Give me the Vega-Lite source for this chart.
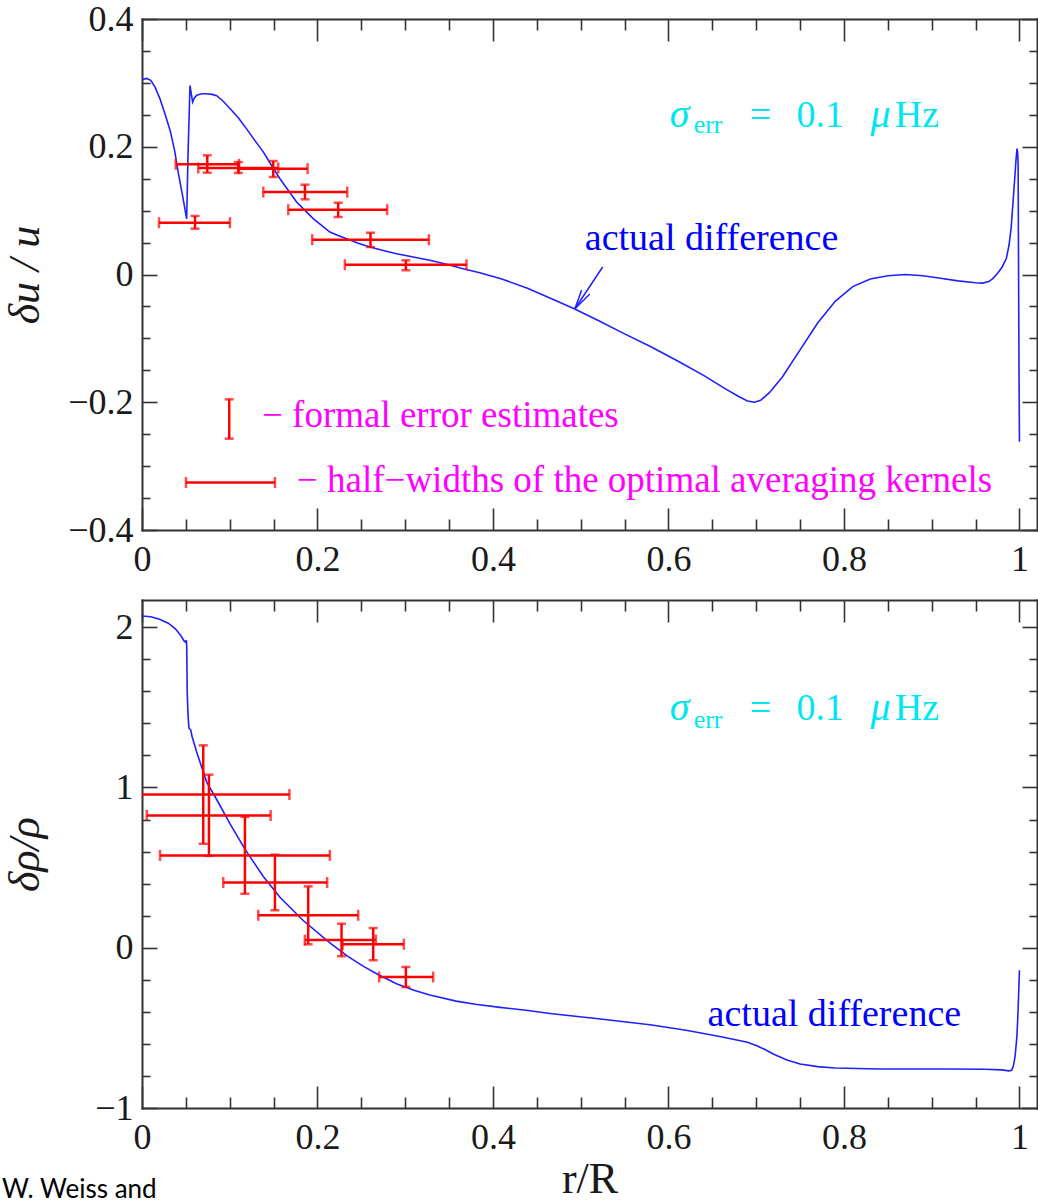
{
  "$schema": "https://vega.github.io/schema/vega-lite/v6.json",
  "padding": {"left": 2, "top": 1, "right": 0, "bottom": 0},
  "background": "white",
  "spacing": 70,
  "bounds": "flush",
  "config": {
    "view": {"stroke": null},
    "axis": {
      "grid": false, "domainColor": "#333333", "domainWidth": 2, "domainCap": "square",
      "tickColor": "#333333", "tickWidth": 1.6,
      "labelFont": "Liberation Serif", "labelFontSize": 36, "labelColor": "#1a1a1a",
      "titleFont": "Liberation Serif", "titleFontSize": 44, "titleFontWeight": "normal", "titleColor": "#1a1a1a",
      "labelFlush": false, "labelOverlap": false
    }
  },
  "datasets": {
    "u_curve": [
      {"r":0,"v":0.305},{"r":0.005,"v":0.307},{"r":0.01,"v":0.304},{"r":0.015,"v":0.293},{"r":0.0205,"v":0.275},
      {"r":0.026,"v":0.252},{"r":0.032,"v":0.226},{"r":0.037,"v":0.195},{"r":0.0413,"v":0.16},{"r":0.046,"v":0.125},
      {"r":0.0509,"v":0.087},{"r":0.0525,"v":0.19},{"r":0.0547,"v":0.296},{"r":0.0565,"v":0.28},{"r":0.0577,"v":0.27},
      {"r":0.0595,"v":0.276},{"r":0.0623,"v":0.2806},{"r":0.068,"v":0.283},{"r":0.0737,"v":0.283},{"r":0.08,"v":0.282},
      {"r":0.0851,"v":0.28},{"r":0.092,"v":0.272},{"r":0.1002,"v":0.26},{"r":0.11,"v":0.245},{"r":0.1192,"v":0.228},
      {"r":0.1285,"v":0.21},{"r":0.1382,"v":0.192},{"r":0.1475,"v":0.171},{"r":0.1572,"v":0.15},{"r":0.167,"v":0.131},
      {"r":0.1762,"v":0.1135},{"r":0.186,"v":0.1},{"r":0.1951,"v":0.0874},{"r":0.205,"v":0.0765},{"r":0.2141,"v":0.0665},
      {"r":0.2235,"v":0.061},{"r":0.2331,"v":0.056},{"r":0.2465,"v":0.049},{"r":0.2597,"v":0.043},{"r":0.275,"v":0.0375},
      {"r":0.2901,"v":0.0326},{"r":0.309,"v":0.0275},{"r":0.328,"v":0.0222},{"r":0.347,"v":0.016},{"r":0.366,"v":0.0091},
      {"r":0.385,"v":0.0028},{"r":0.41,"v":-0.007},{"r":0.44,"v":-0.022},{"r":0.47,"v":-0.04},{"r":0.4932,"v":-0.054},
      {"r":0.52,"v":-0.072},{"r":0.55,"v":-0.093},{"r":0.58,"v":-0.113},{"r":0.61,"v":-0.135},{"r":0.64,"v":-0.158},
      {"r":0.665,"v":-0.179},{"r":0.68,"v":-0.191},{"r":0.69,"v":-0.198},{"r":0.698,"v":-0.2},{"r":0.705,"v":-0.197},
      {"r":0.715,"v":-0.185},{"r":0.73,"v":-0.16},{"r":0.75,"v":-0.118},{"r":0.77,"v":-0.076},{"r":0.79,"v":-0.042},
      {"r":0.81,"v":-0.019},{"r":0.83,"v":-0.007},{"r":0.85,"v":-0.002},{"r":0.87,"v":0.0},{"r":0.89,"v":-0.002},
      {"r":0.91,"v":-0.006},{"r":0.93,"v":-0.01},{"r":0.95,"v":-0.013},{"r":0.958,"v":-0.0135},{"r":0.965,"v":-0.011},
      {"r":0.97,"v":-0.006},{"r":0.975,"v":0.002},{"r":0.98,"v":0.011},{"r":0.985,"v":0.025},{"r":0.988,"v":0.045},
      {"r":0.9905,"v":0.072},{"r":0.9925,"v":0.11},{"r":0.9945,"v":0.148},{"r":0.996,"v":0.178},{"r":0.9972,"v":0.197},
      {"r":0.998,"v":0.19},{"r":0.9985,"v":0.17},{"r":0.999,"v":0.0},{"r":0.9995,"v":-0.15},{"r":1.0,"v":-0.262}
    ],
    "u_pts": [
      {"r":0.0604,"v":0.0811,"vlo":0.0717,"vhi":0.0916,"rlo":0.0194,"rhi":0.1002},
      {"r":0.0744,"v":0.1725,"vlo":0.1594,"vhi":0.1866,"rlo":0.0384,"rhi":0.1105},
      {"r":0.1097,"v":0.1667,"vlo":0.159,"vhi":0.176,"rlo":0.0641,"rhi":0.1553},
      {"r":0.1496,"v":0.1657,"vlo":0.1526,"vhi":0.1777,"rlo":0.1105,"rhi":0.1887},
      {"r":0.1857,"v":0.129,"vlo":0.1177,"vhi":0.1406,"rlo":0.1382,"rhi":0.2339},
      {"r":0.2236,"v":0.1015,"vlo":0.09,"vhi":0.1124,"rlo":0.1667,"rhi":0.2794},
      {"r":0.2604,"v":0.0545,"vlo":0.043,"vhi":0.0654,"rlo":0.194,"rhi":0.327},
      {"r":0.3007,"v":0.0153,"vlo":0.0066,"vhi":0.0222,"rlo":0.2312,"rhi":0.3698}
    ],
    "u_leg": [
      {"r":0.0994,"v":-0.3256,"vlo":-0.257,"vhi":-0.1954,"rlo":0.0501,"rhi":0.1515}
    ],
    "u_arrow": [
      {"r":0.525,"v":0.0117,"r2":0.4932,"v2":-0.054},
      {"r":0.4932,"v":-0.054,"r2":0.5011,"v2":-0.0243},
      {"r":0.4932,"v":-0.054,"r2":0.5103,"v2":-0.0305}
    ],
    "u_cyan": [
      {"r":0.6925,"v":0.2309,"t":"="},{"r":0.746,"v":0.2309,"t":"0.1"},{"r":0.858,"v":0.2309,"t":"Hz"}
    ],
    "u_cyan_it": [
      {"r":0.6014,"v":0.2309,"t":"σ"},{"r":0.8303,"v":0.2309,"t":"μ"}
    ],
    "u_cyan_sub": [{"r":0.6287,"v":0.222,"t":"err"}],
    "u_blue": [{"r":0.5046,"v":0.038,"t":"actual difference"}],
    "u_mag": [
      {"r":0.1367,"v":-0.2387,"t":"− formal error estimates"},
      {"r":0.1765,"v":-0.3405,"t":"− half−widths of the optimal averaging kernels"}
    ],
    "rho_curve": [
      {"r":0,"v":2.07},{"r":0.01,"v":2.065},{"r":0.02,"v":2.05},{"r":0.03,"v":2.025},{"r":0.038,"v":1.99},
      {"r":0.044,"v":1.95},{"r":0.048,"v":1.915},{"r":0.05,"v":1.905},{"r":0.0505,"v":1.92},{"r":0.051,"v":1.88},
      {"r":0.0515,"v":1.6},{"r":0.0525,"v":1.45},{"r":0.0535,"v":1.37},{"r":0.0545,"v":1.365},{"r":0.0555,"v":1.36},
      {"r":0.057,"v":1.32},{"r":0.0623,"v":1.221},{"r":0.0737,"v":1.034},{"r":0.0851,"v":0.925},{"r":0.1002,"v":0.775},
      {"r":0.1173,"v":0.615},{"r":0.1382,"v":0.445},{"r":0.1572,"v":0.315},{"r":0.1837,"v":0.17},{"r":0.2141,"v":0.03},
      {"r":0.235,"v":-0.055},{"r":0.252,"v":-0.115},{"r":0.27,"v":-0.17},{"r":0.29,"v":-0.225},{"r":0.31,"v":-0.265},
      {"r":0.328,"v":-0.295},{"r":0.358,"v":-0.333},{"r":0.38,"v":-0.353},{"r":0.408,"v":-0.372},{"r":0.44,"v":-0.392},
      {"r":0.465,"v":-0.41},{"r":0.52,"v":-0.443},{"r":0.579,"v":-0.48},{"r":0.62,"v":-0.515},{"r":0.66,"v":-0.555},
      {"r":0.69,"v":-0.59},{"r":0.7,"v":-0.61},{"r":0.71,"v":-0.635},{"r":0.72,"v":-0.665},{"r":0.735,"v":-0.7},
      {"r":0.75,"v":-0.725},{"r":0.77,"v":-0.742},{"r":0.79,"v":-0.75},{"r":0.84,"v":-0.757},{"r":0.92,"v":-0.757},
      {"r":0.96,"v":-0.758},{"r":0.98,"v":-0.762},{"r":0.988,"v":-0.768},
      {"r":0.991,"v":-0.765},{"r":0.993,"v":-0.74},{"r":0.995,"v":-0.68},{"r":0.997,"v":-0.56},{"r":0.998,"v":-0.45},
      {"r":0.999,"v":-0.3},{"r":1.0,"v":-0.14}
    ],
    "rho_pts": [
      {"r":0.0698,"v":0.956,"vlo":0.649,"vhi":1.263,"rlo":-0.0281,"rhi":0.168},
      {"r":0.0763,"v":0.826,"vlo":0.573,"vhi":1.08,"rlo":0.0054,"rhi":0.1466},
      {"r":0.1173,"v":0.576,"vlo":0.337,"vhi":0.816,"rlo":0.0205,"rhi":0.2141},
      {"r":0.1515,"v":0.407,"vlo":0.234,"vhi":0.581,"rlo":0.0926,"rhi":0.211},
      {"r":0.1894,"v":0.2025,"vlo":0.0215,"vhi":0.383,"rlo":0.1325,"rhi":0.2464},
      {"r":0.2274,"v":0.048,"vlo":-0.053,"vhi":0.15,"rlo":0.1856,"rhi":0.2665},
      {"r":0.2635,"v":0.022,"vlo":-0.078,"vhi":0.123,"rlo":0.2286,"rhi":0.2984},
      {"r":0.3007,"v":-0.1825,"vlo":-0.245,"vhi":-0.12,"rlo":0.2703,"rhi":0.3318}
    ],
    "rho_cyan": [
      {"r":0.6925,"v":1.421,"t":"="},{"r":0.746,"v":1.421,"t":"0.1"},{"r":0.858,"v":1.421,"t":"Hz"}
    ],
    "rho_cyan_it": [
      {"r":0.6014,"v":1.421,"t":"σ"},{"r":0.8303,"v":1.421,"t":"μ"}
    ],
    "rho_cyan_sub": [{"r":0.6287,"v":1.372,"t":"err"}],
    "rho_blue": [{"r":0.6446,"v":-0.488,"t":"actual difference"}],
    "credit": [{"r":-0.1595,"v":-1.56,"t":"W. Weiss and"}]
  },
  "vconcat": [
    {
      "width": 895, "height": 511,
      "resolve": {"axis": {"x": "independent", "y": "independent"}},
      "layer": [
        {"data": {"name": "u_curve"},
         "mark": {"type": "line", "color": "#2020ff", "strokeWidth": 1.6, "clip": true},
         "encoding": {
           "x": {"field": "r", "type": "quantitative", "scale": {"domain": [0, 1.02], "nice": false, "zero": false},
                 "axis": {"orient": "bottom", "values": [0, 0.2, 0.4, 0.6, 0.8, 1], "format": "~f", "tickSize": -22, "labelPadding": 62, "labelBaseline": "alphabetic", "title": null}},
           "y": {"field": "v", "type": "quantitative", "scale": {"domain": [-0.4, 0.4], "nice": false, "zero": false},
                 "axis": {"orient": "left", "values": [-0.4, -0.2, 0, 0.2, 0.4], "format": "~f", "tickSize": -15, "labelPadding": 24,
                          "title": "δu / u", "titleX": -95, "titleY": 255.5, "titleAngle": -90, "titleAlign": "center", "titleBaseline": "bottom", "titleFontStyle": "italic"}}
         }},
        {"data": {"name": "u_pts"},
         "mark": {"type": "rule", "color": "#ff0000", "strokeWidth": 2.5},
         "encoding": {
           "x": {"field": "r", "type": "quantitative", "scale": {"domain": [0, 1.02], "nice": false, "zero": false},
                 "axis": {"orient": "bottom", "values": [0.05, 0.1, 0.15, 0.25, 0.3, 0.35, 0.45, 0.5, 0.55, 0.65, 0.7, 0.75, 0.85, 0.9, 0.95], "tickSize": -11, "labels": false, "domain": false, "title": null}},
           "y": {"field": "vlo", "type": "quantitative", "scale": {"domain": [-0.4, 0.4], "nice": false, "zero": false},
                 "axis": {"orient": "left", "values": [-0.35, -0.3, -0.25, -0.15, -0.1, -0.05, 0.05, 0.1, 0.15, 0.25, 0.3, 0.35], "tickSize": -8, "labels": false, "domain": false, "title": null}},
           "y2": {"field": "vhi"}
         }},
        {"data": {"name": "u_pts"},
         "mark": {"type": "rule", "color": "#ff0000", "strokeWidth": 2.5, "clip": true},
         "encoding": {
           "x": {"field": "rlo", "type": "quantitative", "scale": {"domain": [0, 1.02], "nice": false, "zero": false},
                 "axis": {"orient": "top", "values": [0, 0.2, 0.4, 0.6, 0.8, 1], "tickSize": -22, "labels": false, "title": null}},
           "x2": {"field": "rhi"},
           "y": {"field": "v", "type": "quantitative", "scale": {"domain": [-0.4, 0.4], "nice": false, "zero": false},
                 "axis": {"orient": "right", "values": [-0.4, -0.2, 0, 0.2, 0.4], "tickSize": -15, "labels": false, "title": null}}
         }},
        {"data": {"name": "u_pts"},
         "mark": {"type": "tick", "orient": "horizontal", "size": 9, "thickness": 2.5, "color": "#ff0000"},
         "encoding": {
           "x": {"field": "r", "type": "quantitative", "scale": {"domain": [0, 1.02], "nice": false, "zero": false},
                 "axis": {"orient": "top", "values": [0.05, 0.1, 0.15, 0.25, 0.3, 0.35, 0.45, 0.5, 0.55, 0.65, 0.7, 0.75, 0.85, 0.9, 0.95], "tickSize": -11, "labels": false, "domain": false, "title": null}},
           "y": {"field": "vlo", "type": "quantitative", "scale": {"domain": [-0.4, 0.4], "nice": false, "zero": false},
                 "axis": {"orient": "right", "values": [-0.35, -0.3, -0.25, -0.15, -0.1, -0.05, 0.05, 0.1, 0.15, 0.25, 0.3, 0.35], "tickSize": -8, "labels": false, "domain": false, "title": null}}
         }},
        {"data": {"name": "u_pts"},
         "mark": {"type": "tick", "orient": "horizontal", "size": 9, "thickness": 2.5, "color": "#ff0000"},
         "encoding": {
           "x": {"field": "r", "type": "quantitative", "axis": null},
           "y": {"field": "vhi", "type": "quantitative", "axis": null}
         }},
        {"data": {"name": "u_pts"},
         "mark": {"type": "tick", "orient": "vertical", "size": 11, "thickness": 2.5, "color": "#ff0000", "clip": true},
         "encoding": {
           "x": {"field": "rlo", "type": "quantitative", "axis": null},
           "y": {"field": "v", "type": "quantitative", "axis": null}
         }},
        {"data": {"name": "u_pts"},
         "mark": {"type": "tick", "orient": "vertical", "size": 11, "thickness": 2.5, "color": "#ff0000", "clip": true},
         "encoding": {
           "x": {"field": "rhi", "type": "quantitative", "axis": null},
           "y": {"field": "v", "type": "quantitative", "axis": null}
         }},
        {"data": {"name": "u_leg"},
         "mark": {"type": "rule", "color": "#ff0000", "strokeWidth": 2.5},
         "encoding": {
           "x": {"field": "r", "type": "quantitative", "axis": null},
           "y": {"field": "vlo", "type": "quantitative", "axis": null},
           "y2": {"field": "vhi"}
         }},
        {"data": {"name": "u_leg"},
         "mark": {"type": "tick", "orient": "horizontal", "size": 9, "thickness": 2.5, "color": "#ff0000"},
         "encoding": {
           "x": {"field": "r", "type": "quantitative", "axis": null},
           "y": {"field": "vlo", "type": "quantitative", "axis": null}
         }},
        {"data": {"name": "u_leg"},
         "mark": {"type": "tick", "orient": "horizontal", "size": 9, "thickness": 2.5, "color": "#ff0000"},
         "encoding": {
           "x": {"field": "r", "type": "quantitative", "axis": null},
           "y": {"field": "vhi", "type": "quantitative", "axis": null}
         }},
        {"data": {"name": "u_leg"},
         "mark": {"type": "rule", "color": "#ff0000", "strokeWidth": 2.5},
         "encoding": {
           "x": {"field": "rlo", "type": "quantitative", "axis": null},
           "x2": {"field": "rhi"},
           "y": {"field": "v", "type": "quantitative", "axis": null}
         }},
        {"data": {"name": "u_leg"},
         "mark": {"type": "tick", "orient": "vertical", "size": 11, "thickness": 2.5, "color": "#ff0000"},
         "encoding": {
           "x": {"field": "rlo", "type": "quantitative", "axis": null},
           "y": {"field": "v", "type": "quantitative", "axis": null}
         }},
        {"data": {"name": "u_leg"},
         "mark": {"type": "tick", "orient": "vertical", "size": 11, "thickness": 2.5, "color": "#ff0000"},
         "encoding": {
           "x": {"field": "rhi", "type": "quantitative", "axis": null},
           "y": {"field": "v", "type": "quantitative", "axis": null}
         }},
        {"data": {"name": "u_arrow"},
         "mark": {"type": "rule", "color": "#2020ff", "strokeWidth": 1.5},
         "encoding": {
           "x": {"field": "r", "type": "quantitative", "axis": null},
           "y": {"field": "v", "type": "quantitative", "axis": null},
           "x2": {"field": "r2"},
           "y2": {"field": "v2"}
         }},
        {"data": {"name": "u_cyan"},
         "mark": {"type": "text", "align": "left", "baseline": "alphabetic", "font": "Liberation Serif", "fontSize": 38, "color": "#00e6f0"},
         "encoding": {
           "x": {"field": "r", "type": "quantitative", "axis": null},
           "y": {"field": "v", "type": "quantitative", "axis": null},
           "text": {"field": "t"}
         }},
        {"data": {"name": "u_cyan_it"},
         "mark": {"type": "text", "align": "left", "baseline": "alphabetic", "font": "Liberation Serif", "fontStyle": "italic", "fontSize": 40, "color": "#00e6f0"},
         "encoding": {
           "x": {"field": "r", "type": "quantitative", "axis": null},
           "y": {"field": "v", "type": "quantitative", "axis": null},
           "text": {"field": "t"}
         }},
        {"data": {"name": "u_cyan_sub"},
         "mark": {"type": "text", "align": "left", "baseline": "alphabetic", "font": "Liberation Serif", "fontSize": 26, "color": "#00e6f0"},
         "encoding": {
           "x": {"field": "r", "type": "quantitative", "axis": null},
           "y": {"field": "v", "type": "quantitative", "axis": null},
           "text": {"field": "t"}
         }},
        {"data": {"name": "u_blue"},
         "mark": {"type": "text", "align": "left", "baseline": "alphabetic", "font": "Liberation Serif", "fontSize": 38, "color": "#0000ff"},
         "encoding": {
           "x": {"field": "r", "type": "quantitative", "axis": null},
           "y": {"field": "v", "type": "quantitative", "axis": null},
           "text": {"field": "t"}
         }},
        {"data": {"name": "u_mag"},
         "mark": {"type": "text", "align": "left", "baseline": "alphabetic", "font": "Liberation Serif", "fontSize": 37, "color": "#ff00ff"},
         "encoding": {
           "x": {"field": "r", "type": "quantitative", "axis": null},
           "y": {"field": "v", "type": "quantitative", "axis": null},
           "text": {"field": "t"}
         }}
      ]
    },
    {
      "width": 895, "height": 508,
      "resolve": {"axis": {"x": "independent", "y": "independent"}},
      "layer": [
        {"data": {"name": "rho_curve"},
         "mark": {"type": "line", "color": "#2020ff", "strokeWidth": 1.6, "clip": true},
         "encoding": {
           "x": {"field": "r", "type": "quantitative", "scale": {"domain": [0, 1.02], "nice": false, "zero": false},
                 "axis": {"orient": "bottom", "values": [0, 0.2, 0.4, 0.6, 0.8, 1], "format": "~f", "tickSize": -22, "labelPadding": 62, "labelBaseline": "alphabetic",
                          "title": "r/R", "titleX": 447.5, "titleY": 84, "titleAlign": "center", "titleBaseline": "alphabetic", "titleAngle": 0}},
           "y": {"field": "v", "type": "quantitative", "scale": {"domain": [-1, 2.17], "nice": false, "zero": false},
                 "axis": {"orient": "left", "values": [-1, 0, 1, 2], "format": "~f", "tickSize": -15, "labelPadding": 24,
                          "title": "δρ/ρ", "titleX": -95, "titleY": 254, "titleAngle": -90, "titleAlign": "center", "titleBaseline": "bottom", "titleFontStyle": "italic"}}
         }},
        {"data": {"name": "rho_pts"},
         "mark": {"type": "rule", "color": "#ff0000", "strokeWidth": 2.5},
         "encoding": {
           "x": {"field": "r", "type": "quantitative", "scale": {"domain": [0, 1.02], "nice": false, "zero": false},
                 "axis": {"orient": "bottom", "values": [0.05, 0.1, 0.15, 0.25, 0.3, 0.35, 0.45, 0.5, 0.55, 0.65, 0.7, 0.75, 0.85, 0.9, 0.95], "tickSize": -11, "labels": false, "domain": false, "title": null}},
           "y": {"field": "vlo", "type": "quantitative", "scale": {"domain": [-1, 2.17], "nice": false, "zero": false},
                 "axis": {"orient": "left", "values": [-0.8, -0.6, -0.4, -0.2, 0.2, 0.4, 0.6, 0.8, 1.2, 1.4, 1.6, 1.8], "tickSize": -8, "labels": false, "domain": false, "title": null}},
           "y2": {"field": "vhi"}
         }},
        {"data": {"name": "rho_pts"},
         "mark": {"type": "rule", "color": "#ff0000", "strokeWidth": 2.5, "clip": true},
         "encoding": {
           "x": {"field": "rlo", "type": "quantitative", "scale": {"domain": [0, 1.02], "nice": false, "zero": false},
                 "axis": {"orient": "top", "values": [0, 0.2, 0.4, 0.6, 0.8, 1], "tickSize": -22, "labels": false, "title": null}},
           "x2": {"field": "rhi"},
           "y": {"field": "v", "type": "quantitative", "scale": {"domain": [-1, 2.17], "nice": false, "zero": false},
                 "axis": {"orient": "right", "values": [-1, 0, 1, 2], "tickSize": -15, "labels": false, "title": null}}
         }},
        {"data": {"name": "rho_pts"},
         "mark": {"type": "tick", "orient": "horizontal", "size": 9, "thickness": 2.5, "color": "#ff0000"},
         "encoding": {
           "x": {"field": "r", "type": "quantitative", "scale": {"domain": [0, 1.02], "nice": false, "zero": false},
                 "axis": {"orient": "top", "values": [0.05, 0.1, 0.15, 0.25, 0.3, 0.35, 0.45, 0.5, 0.55, 0.65, 0.7, 0.75, 0.85, 0.9, 0.95], "tickSize": -11, "labels": false, "domain": false, "title": null}},
           "y": {"field": "vlo", "type": "quantitative", "scale": {"domain": [-1, 2.17], "nice": false, "zero": false},
                 "axis": {"orient": "right", "values": [-0.8, -0.6, -0.4, -0.2, 0.2, 0.4, 0.6, 0.8, 1.2, 1.4, 1.6, 1.8], "tickSize": -8, "labels": false, "domain": false, "title": null}}
         }},
        {"data": {"name": "rho_pts"},
         "mark": {"type": "tick", "orient": "horizontal", "size": 9, "thickness": 2.5, "color": "#ff0000"},
         "encoding": {
           "x": {"field": "r", "type": "quantitative", "axis": null},
           "y": {"field": "vhi", "type": "quantitative", "axis": null}
         }},
        {"data": {"name": "rho_pts"},
         "mark": {"type": "tick", "orient": "vertical", "size": 11, "thickness": 2.5, "color": "#ff0000", "clip": true},
         "encoding": {
           "x": {"field": "rlo", "type": "quantitative", "axis": null},
           "y": {"field": "v", "type": "quantitative", "axis": null}
         }},
        {"data": {"name": "rho_pts"},
         "mark": {"type": "tick", "orient": "vertical", "size": 11, "thickness": 2.5, "color": "#ff0000", "clip": true},
         "encoding": {
           "x": {"field": "rhi", "type": "quantitative", "axis": null},
           "y": {"field": "v", "type": "quantitative", "axis": null}
         }},
        {"data": {"name": "rho_cyan"},
         "mark": {"type": "text", "align": "left", "baseline": "alphabetic", "font": "Liberation Serif", "fontSize": 38, "color": "#00e6f0"},
         "encoding": {
           "x": {"field": "r", "type": "quantitative", "axis": null},
           "y": {"field": "v", "type": "quantitative", "axis": null},
           "text": {"field": "t"}
         }},
        {"data": {"name": "rho_cyan_it"},
         "mark": {"type": "text", "align": "left", "baseline": "alphabetic", "font": "Liberation Serif", "fontStyle": "italic", "fontSize": 40, "color": "#00e6f0"},
         "encoding": {
           "x": {"field": "r", "type": "quantitative", "axis": null},
           "y": {"field": "v", "type": "quantitative", "axis": null},
           "text": {"field": "t"}
         }},
        {"data": {"name": "rho_cyan_sub"},
         "mark": {"type": "text", "align": "left", "baseline": "alphabetic", "font": "Liberation Serif", "fontSize": 26, "color": "#00e6f0"},
         "encoding": {
           "x": {"field": "r", "type": "quantitative", "axis": null},
           "y": {"field": "v", "type": "quantitative", "axis": null},
           "text": {"field": "t"}
         }},
        {"data": {"name": "rho_blue"},
         "mark": {"type": "text", "align": "left", "baseline": "alphabetic", "font": "Liberation Serif", "fontSize": 38, "color": "#0000ff"},
         "encoding": {
           "x": {"field": "r", "type": "quantitative", "axis": null},
           "y": {"field": "v", "type": "quantitative", "axis": null},
           "text": {"field": "t"}
         }},
        {"data": {"name": "credit"},
         "mark": {"type": "text", "align": "left", "baseline": "alphabetic", "font": "Lato", "fontSize": 26, "color": "#000000"},
         "encoding": {
           "x": {"field": "r", "type": "quantitative", "axis": null},
           "y": {"field": "v", "type": "quantitative", "axis": null},
           "text": {"field": "t"}
         }}
      ]
    }
  ]
}
